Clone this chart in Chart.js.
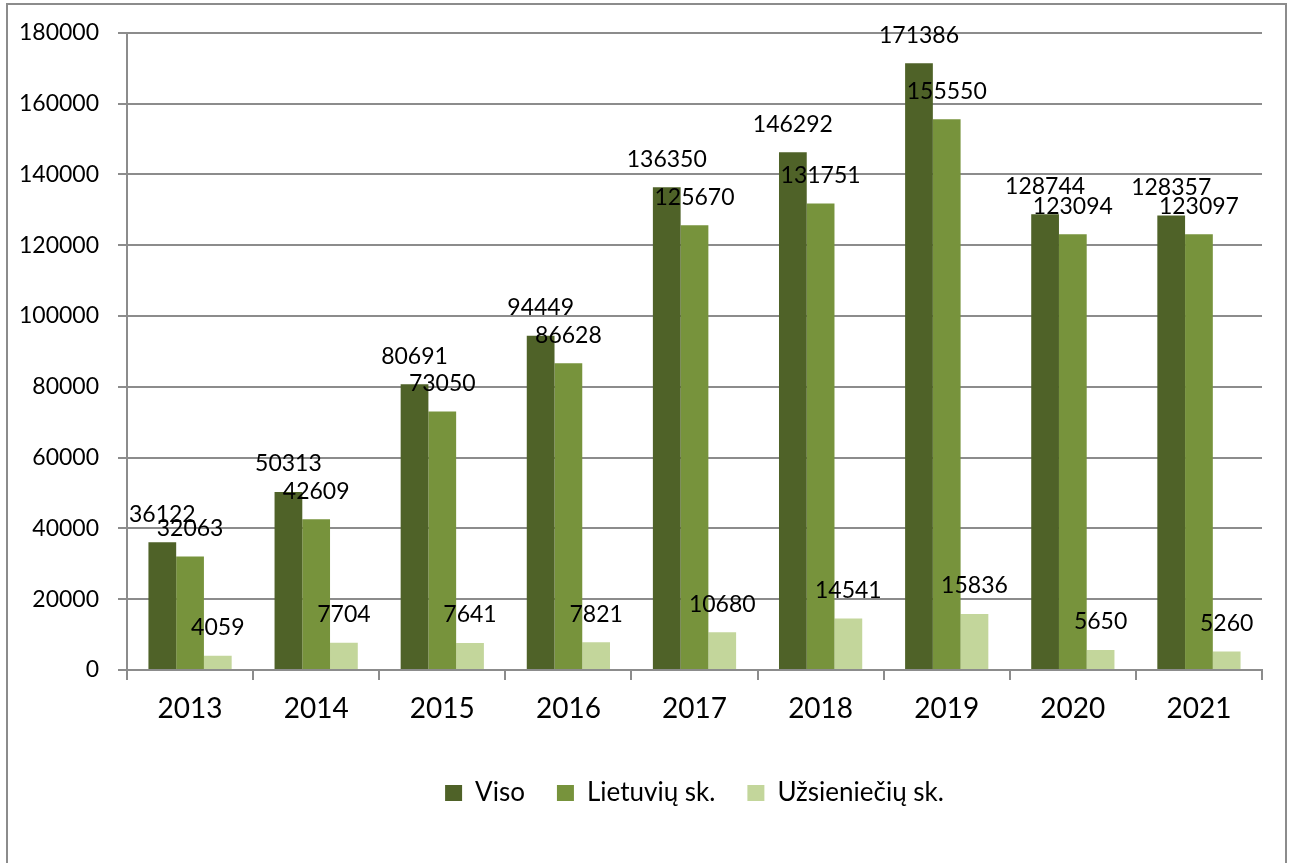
<!DOCTYPE html>
<html>
<head>
<meta charset="utf-8">
<script src="https://cdn.jsdelivr.net/npm/chart.js@4/dist/chart.umd.min.js"></script>
<style>
  html, body { margin: 0; padding: 0; background: #fff; }
  #wrap { width: 1295px; height: 863px; position: relative; }
</style>
</head>
<body>
<div id="wrap"><canvas id="chart" width="1295" height="863"></canvas></div>
<script>
const years = ['2013', '2014', '2015', '2016', '2017', '2018', '2019', '2020', '2021'];
const viso = [36122, 50313, 80691, 94449, 136350, 146292, 171386, 128744, 128357];
const lietuviu = [32063, 42609, 73050, 86628, 125670, 131751, 155550, 123094, 123097];
const uzsienieciu = [4059, 7704, 7641, 7821, 10680, 14541, 15836, 5650, 5260];
const seriesNames = ['Viso', 'Lietuvių sk.', 'Užsieniečių sk.'];
const seriesColors = ['#4F6228', '#77933C', '#C3D69B'];

const FONT = 'Lato, "Open Sans", sans-serif';
const gridColor = '#8c8c8c';

// value labels above each bar
const valueLabels = {
    id: 'valueLabels',
    afterDatasetsDraw(chart) {
        const ctx = chart.ctx;
        ctx.save();
        ctx.font = '23px ' + FONT;
        ctx.fillStyle = '#000';
        ctx.textAlign = 'center';
        ctx.textBaseline = 'middle';
        chart.data.datasets.forEach(function(ds, i) {
            chart.getDatasetMeta(i).data.forEach(function(bar, j) {
                ctx.fillText(String(ds.data[j]), bar.x, bar.y - 28);
            });
        });
        ctx.restore();
    }
};

// outer frame of the picture
const frame = {
    id: 'frame',
    beforeDraw(chart) {
        const ctx = chart.ctx;
        ctx.save();
        ctx.strokeStyle = '#8c8c8c';
        ctx.lineWidth = 2;
        ctx.strokeRect(7, 4, 1279, 880);
        ctx.restore();
    }
};

new Chart(document.getElementById('chart'), {
    type: 'bar',
    data: {
        labels: years,
        datasets: [viso, lietuviu, uzsienieciu].map(function(d, i) {
            return {
                label: seriesNames[i],
                data: d,
                backgroundColor: seriesColors[i],
                categoryPercentage: 0.66,
                barPercentage: 1.0
            };
        })
    },
    options: {
        responsive: false,
        animation: false,
        layout: { padding: { top: 32, right: 33, bottom: 47, left: 0 } },
        plugins: {
            tooltip: { enabled: false },
            legend: {
                position: 'bottom',
                fullSize: false,
                labels: {
                    font: { family: FONT, size: 26 },
                    color: '#000',
                    boxWidth: 17,
                    boxHeight: 16,
                    padding: 32
                }
            }
        },
        scales: {
            x: {
                offset: true,
                afterFit: function(scale) { scale.height = 78; },
                grid: {
                    offset: true,
                    drawOnChartArea: false,
                    drawTicks: true,
                    tickLength: 10,
                    color: gridColor,
                    lineWidth: 2
                },
                border: { color: gridColor, width: 2 },
                ticks: {
                    font: { family: FONT, size: 28 },
                    color: '#000',
                    padding: 12
                }
            },
            y: {
                min: 0,
                max: 180000,
                afterFit: function(scale) { scale.width = 127; },
                grid: {
                    color: gridColor,
                    lineWidth: 2,
                    tickLength: 9
                },
                border: { color: gridColor, width: 2 },
                ticks: {
                    stepSize: 20000,
                    font: { family: FONT, size: 23 },
                    color: '#000',
                    padding: 19,
                    callback: function(v) { return String(v); }
                }
            }
        }
    },
    plugins: [frame, valueLabels]
});
</script>
</body>
</html>
